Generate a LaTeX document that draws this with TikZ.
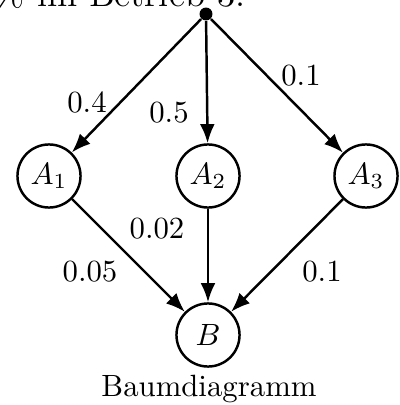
\documentclass[tikz,border=0pt]{standalone}
\usetikzlibrary{arrows.meta}
\begin{document}
\begin{tikzpicture}[x=0.325pt,y=-0.325pt,
  state/.style={circle,draw,line width=0.8pt,minimum size=20.5pt,inner sep=0pt},
  edge/.style={line width=0.8pt,-{Latex[length=6.2pt,width=4.8pt]}},
  prob/.style={inner sep=0pt}]
  \useasboundingbox (0,0) rectangle (400,405);
  % heading, partly above the page
  \node[anchor=base east,inner sep=0pt,font=\large] (head) at (246,7) {10\,\% im Betrieb 3.};
  % root and states
  \node[circle,fill,inner sep=0pt,minimum size=4.2pt] (r) at (206,14) {};
  \node[state] (a1) at (49,176) {$A_1$};
  \node[state] (a2) at (208,176) {$A_2$};
  \node[state] (a3) at (366,176) {$A_3$};
  \node[state] (b) at (208,335) {$B$};
  % branches
  \draw[edge] (r) -- (a1);
  \draw[edge] (r) -- (a2);
  \draw[edge] (r) -- (a3);
  \draw[edge] (a1) -- (b);
  \draw[edge] (a2) -- (b);
  \draw[edge] (a3) -- (b);
  % probabilities
  \node[prob] (p1) at (87,102) {0.4};
  \node[prob] (p2) at (169,113) {0.5};
  \node[prob] (p3) at (301,76) {0.1};
  \node[prob] (q1) at (90,272) {0.05};
  \node[prob] (q2) at (157,229) {0.02};
  \node[prob] (q3) at (322,272) {0.1};
  \node[anchor=base,inner sep=0pt] (cap) at (209,396) {Baumdiagramm};
\end{tikzpicture}
\end{document}
